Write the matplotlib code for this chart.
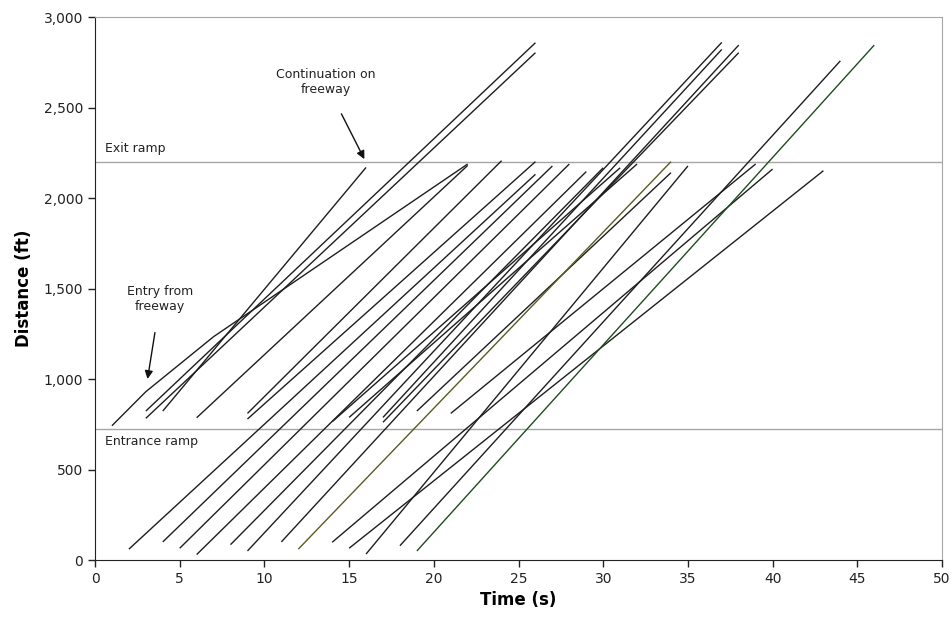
import matplotlib
matplotlib.use("Agg")
import matplotlib.pyplot as plt
from matplotlib.ticker import FuncFormatter, MultipleLocator

# ---- data: vehicle trajectories (time s, distance ft) ----
veh_times = [
    [1, 3, 7, 22], [3, 26], [3, 26], [4, 16], [6, 22], [9, 26], [9, 24],
    [14, 31], [15, 32], [17, 37], [17, 38], [19, 34], [21, 39],
    [2, 26], [4, 27], [5, 28], [6, 29], [8, 30], [9, 37], [11, 38],
    [12, 34], [14, 40], [15, 43], [16, 35], [18, 44], [19, 46],
]
veh_dists = [
    [742, 930, 1234, 2188], [783, 2803], [823, 2858], [823, 2169], [786, 2180],
    [779, 2201], [810, 2206], [764, 2167], [788, 2188], [788, 2821], [761, 2803],
    [823, 2140], [810, 2188],
    [60, 2131], [100, 2177], [65, 2188], [30, 2146], [85, 2167], [50, 2860],
    [100, 2845], [60, 2201], [98, 2160], [65, 2151], [33, 2177], [79, 2758],
    [50, 2845],
]
veh_colors = ["#1e1e1e"] * 20 + ["#5c5a22"] + ["#1e1e1e"] * 4 + ["#1f4d1f"]

exit_ramp = 2200
entrance_ramp = 725

x_ticks = list(range(0, 51, 5))
y_ticks = list(range(0, 3001, 500))

fig = plt.figure(figsize=(9.52, 6.31), dpi=100)
ax = fig.add_axes([0.0998, 0.1125, 0.8897, 0.8605])

for t, d, c in zip(veh_times, veh_dists, veh_colors):
    ax.plot(t, d, color=c, lw=1.0, solid_capstyle="butt")

ax.axhline(exit_ramp, color="#a6a6a6", lw=1.0, zorder=0)
ax.axhline(entrance_ramp, color="#a6a6a6", lw=1.0, zorder=0)

ax.text(0.6, 2240, "Exit ramp", fontsize=9, color="#222222", va="bottom", ha="left")
ax.text(0.6, 690, "Entrance ramp", fontsize=9, color="#222222", va="top", ha="left")

ax.annotate("Continuation on\nfreeway", xy=(15.9, 2215), xytext=(13.6, 2640),
            ha="center", va="center", fontsize=9, color="#222222",
            arrowprops=dict(arrowstyle="-|>", color="#111111", lw=1.0,
                            mutation_scale=12, shrinkA=12, shrinkB=0))
ax.annotate("Entry from\nfreeway", xy=(3.1, 1000), xytext=(3.85, 1440),
            ha="center", va="center", fontsize=9, color="#222222",
            arrowprops=dict(arrowstyle="-|>", color="#111111", lw=1.0,
                            mutation_scale=12, shrinkA=12, shrinkB=0))

ax.set_xlim(0, 50)
ax.set_ylim(0, 3000)
ax.set_xticks(x_ticks)
ax.set_yticks(y_ticks)
ax.yaxis.set_major_formatter(FuncFormatter(lambda v, p: f"{int(v):,}"))
ax.tick_params(direction="out", length=5, width=1, labelsize=10, colors="#222222")

for s in ["top", "right"]:
    ax.spines[s].set_color("#a6a6a6")
for s in ["left", "bottom"]:
    ax.spines[s].set_color("#222222")

ax.set_xlabel("Time (s)", fontsize=12, fontweight="bold", labelpad=4)
ax.set_ylabel("Distance (ft)", fontsize=12, fontweight="bold", labelpad=8)

fig.savefig("out.png", dpi=100)
